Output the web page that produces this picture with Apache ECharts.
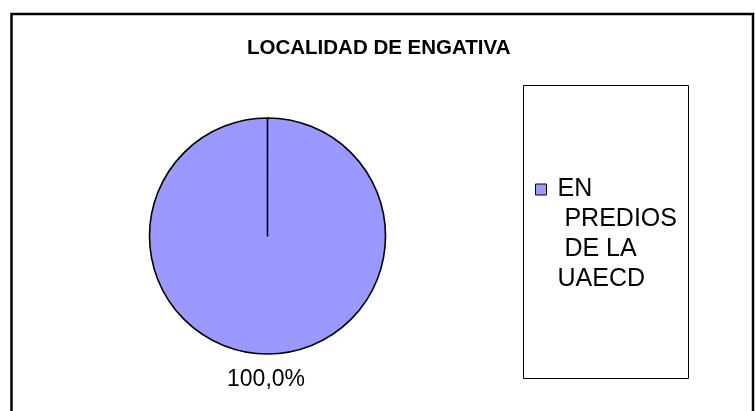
<!DOCTYPE html>
<html>
<head>
<meta charset="utf-8">
<script src="https://cdn.jsdelivr.net/npm/echarts@6/dist/echarts.min.js"></script>
<style>
html,body{margin:0;padding:0;background:#fff;}
#chart{width:755px;height:411px;}
</style>
</head>
<body>
<div id="chart"></div>
<script>
// ---- data ----
const titleText = 'LOCALIDAD DE ENGATIVA';
const categories = ['EN PREDIOS DE LA UAECD'];
const values = [100];
const legendLines = ['EN', ' PREDIOS', ' DE LA', 'UAECD'];
const sliceColors = ['#9999FF'];

const FONT = '"Liberation Sans", Arial, sans-serif';
const chart = echarts.init(document.getElementById('chart'), null, {renderer: 'canvas'});

const pieData = categories.map((c, i) => ({
  name: c,
  value: values[i],
  itemStyle: {color: sliceColors[i]}
}));

// empty lines before the text keep the first line level with the legend icon
const legendText = new Array(legendLines.length - 1).fill('').concat(legendLines).join('\n');

chart.setOption({
  backgroundColor: '#ffffff',
  animation: false,
  title: {
    text: titleText,
    left: 247,
    top: 38,
    padding: 0,
    textStyle: {fontFamily: FONT, fontSize: 20.5, fontWeight: 'bold', color: '#000'}
  },
  graphic: [
    {type: 'rect', z: -10, silent: true,
     shape: {x: 11.5, y: 14, width: 741.5, height: 420},
     style: {fill: 'none', stroke: '#000', lineWidth: 2.5}},
    {type: 'rect', z: -10, silent: true,
     shape: {x: 523.5, y: 85.5, width: 165, height: 293},
     style: {fill: 'none', stroke: '#000', lineWidth: 1}}
  ],
  legend: {
    orient: 'vertical',
    left: 535,
    top: 84.5,
    padding: 0,
    itemWidth: 11,
    itemHeight: 11,
    icon: 'rect',
    selectedMode: false,
    data: categories,
    itemStyle: {borderColor: '#000', borderWidth: 1},
    formatter: () => legendText,
    textStyle: {fontFamily: FONT, fontSize: 25, lineHeight: 30, color: '#000', padding: [0, 0, 0, 6]}
  },
  series: [{
    type: 'pie',
    center: [267.5, 236],
    radius: 118,
    startAngle: 90,
    endAngle: -269.99,
    clockwise: true,
    silent: true,
    emphasis: {disabled: true},
    itemStyle: {borderColor: '#000', borderWidth: 1.6},
    labelLine: {show: false},
    label: {
      show: true,
      position: 'inside',
      offset: [-1.5, 82],
      fontFamily: FONT,
      fontSize: 23,
      color: '#000',
      formatter: p => p.percent.toFixed(1).replace('.', ',') + '%'
    },
    data: pieData
  }]
});
</script>
</body>
</html>
